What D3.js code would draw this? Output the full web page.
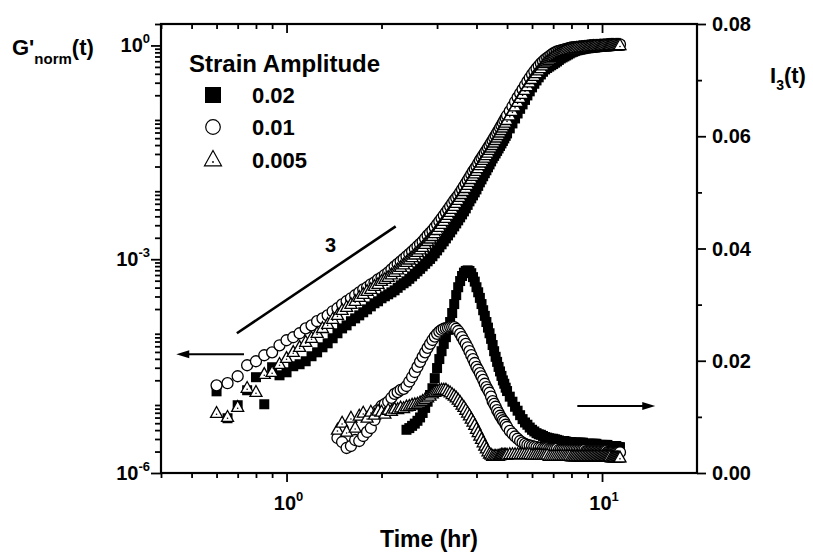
<!DOCTYPE html>
<html><head><meta charset="utf-8">
<script src="https://cdn.jsdelivr.net/npm/d3@7"></script>
<style>
html,body{margin:0;padding:0;background:#fff;}
svg text{font-family:"Liberation Sans",Arial,Helvetica,sans-serif;font-weight:bold;fill:#000;}
</style></head><body>
<svg id="chart" width="813" height="557"></svg>
<script>
// ---------- data ----------
const timeG = [0.60,0.65,0.70,0.75,0.80,0.85,0.90,0.95,1.00,1.05,1.10,1.15,1.20,1.25,1.30,1.35,1.40,1.45,1.50,1.55,1.60,1.65,1.70,1.75,1.80,1.85,1.90,1.95,2.00,
  2.05,2.10,2.15,2.20,2.25,2.30,2.35,2.40,2.45,2.50,2.55,2.60,2.65,2.70,2.75,2.80,2.85,2.90,2.95,3.00,
  3.05,3.10,3.15,3.20,3.25,3.30,3.35,3.40,3.45,3.50,3.55,3.60,3.65,3.70,3.75,3.80,3.85,3.90,3.95,4.00,
  4.05,4.10,4.15,4.20,4.25,4.30,4.35,4.40,4.45,4.50,4.55,4.60,4.65,4.70,4.75,4.80,4.85,4.90,4.95,5.00,
  5.1,5.2,5.3,5.4,5.5,5.6,5.7,5.8,5.9,6.0,6.1,6.2,6.3,6.4,6.5,6.6,6.7,6.8,6.9,7.0,
  7.1,7.2,7.3,7.4,7.5,7.6,7.7,7.8,7.9,8.0,8.1,8.2,8.3,8.4,8.5,8.6,8.7,8.8,8.9,9.0,
  9.1,9.2,9.3,9.4,9.5,9.6,9.7,9.8,9.9,10.0,10.1,10.2,10.3,10.4,10.5,10.6,10.7,10.8,10.9,11.0,
  11.1,11.2,11.3,11.4];
// G'norm(t), strain 0.02 (filled squares)
const gStrain002 = [1.40e-5,5.87e-6,8.93e-6,1.45e-5,2.21e-5,9.22e-6,3.05e-5,2.35e-5,2.59e-5,3.15e-5,3.36e-5,3.70e-5,4.35e-5,4.94e-5,5.81e-5,6.61e-5,7.78e-5,9.14e-5,1.07e-4,1.18e-4,1.35e-4,1.48e-4,1.63e-4,1.80e-4,1.98e-4,2.18e-4,2.41e-4,2.57e-4,2.83e-4,
  3.02e-4,3.22e-4,3.43e-4,3.66e-4,3.97e-4,4.31e-4,4.60e-4,4.90e-4,5.31e-4,5.75e-4,6.24e-4,6.76e-4,7.33e-4,7.95e-4,8.62e-4,9.35e-4,1.01e-3,1.10e-3,1.21e-3,1.33e-3,
  1.47e-3,1.62e-3,1.78e-3,1.96e-3,2.16e-3,2.38e-3,2.62e-3,2.89e-3,3.18e-3,3.51e-3,3.87e-3,4.26e-3,4.69e-3,5.17e-3,5.79e-3,6.49e-3,7.15e-3,7.87e-3,8.67e-3,9.55e-3,
  1.07e-2,1.20e-2,1.32e-2,1.46e-2,1.61e-2,1.77e-2,1.95e-2,2.14e-2,2.36e-2,2.60e-2,2.82e-2,3.05e-2,3.31e-2,3.59e-2,3.89e-2,4.22e-2,4.57e-2,4.96e-2,5.38e-2,5.83e-2,
  6.86e-2,8.05e-2,9.45e-2,0.111,0.129,0.149,0.172,0.199,0.227,0.258,0.290,0.323,0.357,0.392,0.427,0.461,0.483,0.505,0.527,0.548,
  0.572,0.597,0.627,0.657,0.679,0.701,0.724,0.748,0.773,0.798,0.815,0.833,0.851,0.860,0.870,0.879,0.889,0.898,0.908,0.913,
  0.917,0.922,0.927,0.932,0.937,0.942,0.948,0.953,0.958,0.963,0.968,0.968,0.968,0.968,0.973,0.979,0.984,0.984,0.984,0.984,
  0.988,0.992,0.996,1.0];
// G'norm(t), strain 0.01 (open circles)
const gStrain001 = [1.70e-5,1.82e-5,2.28e-5,3.25e-5,3.70e-5,4.49e-5,4.94e-5,6.20e-5,7.29e-5,8.03e-5,9.14e-5,1.07e-4,1.18e-4,1.35e-4,1.48e-4,1.63e-4,1.86e-4,2.05e-4,2.33e-4,2.57e-4,2.83e-4,3.12e-4,3.43e-4,3.78e-4,4.04e-4,4.45e-4,4.74e-4,5.22e-4,5.57e-4,
  6.05e-4,6.55e-4,7.20e-4,7.95e-4,8.60e-4,9.35e-4,1.01e-3,1.10e-3,1.19e-3,1.29e-3,1.40e-3,1.52e-3,1.64e-3,1.78e-3,1.96e-3,2.16e-3,2.34e-3,2.54e-3,2.80e-3,3.09e-3,
  3.40e-3,3.75e-3,4.13e-3,4.55e-3,5.01e-3,5.52e-3,6.08e-3,6.70e-3,7.26e-3,7.87e-3,8.67e-3,9.55e-3,1.05e-2,1.16e-2,1.28e-2,1.41e-2,1.55e-2,1.71e-2,1.85e-2,2.01e-2,
  2.21e-2,2.44e-2,2.64e-2,2.86e-2,3.10e-2,3.37e-2,3.65e-2,3.96e-2,4.29e-2,4.65e-2,5.04e-2,5.47e-2,5.93e-2,6.43e-2,6.97e-2,7.55e-2,8.18e-2,8.87e-2,9.61e-2,0.104,
  0.120,0.139,0.162,0.187,0.213,0.242,0.276,0.313,0.352,0.392,0.434,0.476,0.518,0.560,0.598,0.636,0.668,0.701,0.737,0.772,
  0.798,0.824,0.838,0.851,0.865,0.879,0.893,0.908,0.922,0.937,0.942,0.948,0.953,0.958,0.963,0.968,0.973,0.979,0.984,0.989,
  0.995,1.0,1.0,1.0,1.0,1.005,1.011,1.016,1.016,1.016,1.016,1.022,1.028,1.033,1.033,1.033,1.033,1.033,1.033,1.033,
  1.033,1.033,1.033,1.033];
// G'norm(t), strain 0.005 (open triangles)
const gStrain0005 = [6.90e-6,6.06e-6,8.37e-6,1.55e-5,1.36e-5,2.43e-5,2.59e-5,3.36e-5,4.07e-5,4.94e-5,5.81e-5,6.84e-5,7.78e-5,9.14e-5,1.07e-4,1.22e-4,1.44e-4,1.63e-4,1.92e-4,2.12e-4,2.33e-4,2.57e-4,2.92e-4,3.22e-4,3.55e-4,3.78e-4,4.17e-4,4.45e-4,4.90e-4,
  5.22e-4,5.57e-4,6.04e-4,6.55e-4,7.10e-4,7.69e-4,8.34e-4,9.05e-4,9.79e-4,1.06e-3,1.15e-3,1.25e-3,1.36e-3,1.47e-3,1.62e-3,1.78e-3,1.93e-3,2.09e-3,2.30e-3,2.54e-3,
  2.80e-3,3.09e-3,3.40e-3,3.75e-3,4.13e-3,4.55e-3,5.01e-3,5.52e-3,6.08e-3,6.70e-3,7.38e-3,8.13e-3,8.95e-3,9.86e-3,1.09e-2,1.20e-2,1.32e-2,1.46e-2,1.58e-2,1.71e-2,
  1.88e-2,2.07e-2,2.25e-2,2.44e-2,2.64e-2,2.86e-2,3.10e-2,3.37e-2,3.65e-2,3.96e-2,4.29e-2,4.65e-2,5.04e-2,5.47e-2,5.93e-2,6.43e-2,6.97e-2,7.55e-2,8.18e-2,8.87e-2,
  0.103,0.119,0.138,0.159,0.181,0.206,0.235,0.266,0.299,0.334,0.369,0.405,0.440,0.476,0.518,0.560,0.588,0.616,0.648,0.679,
  0.701,0.724,0.748,0.772,0.798,0.824,0.838,0.851,0.865,0.879,0.889,0.898,0.908,0.913,0.917,0.922,0.927,0.932,0.937,0.942,
  0.948,0.953,0.958,0.963,0.968,0.968,0.968,0.968,0.973,0.979,0.984,0.984,0.984,0.984,0.989,0.995,1.0,1.0,1.0,1.0,
  1.0,1.0,1.0,1.0];

// I3(t) is sampled from 1.45 hr onwards on the same clock
const timeI = timeG.filter(t => t >= 1.45);
// I3(t), strain 0.02 (no visible points before 2.4 hr)
const iStrain002 = [null,null,null,null,null,null,null,null,null,null,null,null,null,null,null,null,null,null,null,
  0.0077,0.0080,0.0084,0.0088,0.0093,0.0099,0.0107,0.0116,0.0127,0.0139,
  0.0151,0.0169,0.0187,0.0203,0.0217,0.0230,0.0242,0.0255,0.0269,0.0285,
  0.0301,0.0317,0.0331,0.0342,0.0351,0.0357,0.0360,0.0361,0.0360,0.0356,
  0.0349,0.0341,0.0331,0.0322,0.0312,0.0301,0.0290,0.0280,0.0269,0.0259,
  0.0249,0.0239,0.0228,0.0217,0.0207,0.0198,0.0189,0.0181,0.0173,0.0165,
  0.0159,0.0152,0.0146,
  0.0136,0.0127,0.0118,0.0111,0.0103,0.0096,0.0090,0.0086,0.0081,0.0077,
  0.0074,0.0071,0.0069,0.0068,0.0066,0.0064,0.0063,0.0062,0.0061,0.0061,
  0.0060,0.0059,0.0058,0.0057,0.0057,0.0057,0.0056,0.0055,0.0055,0.0055,
  0.0054,0.0054,0.0054,0.0054,0.0054,0.0054,0.0054,0.0052,0.0052,0.0052,
  0.0052,0.0052,0.0052,0.0052,0.0052,0.0052,0.0050,0.0050,0.0050,0.0050,
  0.0050,0.0050,0.0050,0.0050,0.0048,0.0048,0.0048,0.0048,0.0048,0.0048,
  0.0048,0.0046,0.0046,0.0046];
// I3(t), strain 0.01
const iStrain001 = [0.00624,0.00552,0.00445,0.00481,0.00588,0.00570,0.00659,0.00731,0.00802,0.00944,0.01122,0.01194,
  0.0123,0.0127,0.0134,0.0141,0.0144,0.0148,0.0150,0.0155,0.0163,0.0171,
  0.0180,0.0189,0.0198,0.0207,0.0215,0.0223,0.0230,0.0237,0.0243,0.0248,
  0.0252,0.0255,0.0257,0.0258,0.0259,0.0260,0.0260,0.0260,0.0257,0.0253,
  0.0248,0.0242,0.0236,0.0230,0.0224,0.0217,0.0210,0.0203,0.0196,0.0189,
  0.0184,0.0178,0.0172,0.0166,0.0159,0.0153,0.0148,0.0143,0.0136,0.0128,
  0.0123,0.0118,0.0112,0.0107,0.0102,0.0098,0.0094,0.0091,0.0086,0.0082,
  0.0075,0.0070,0.0065,0.0061,0.0057,0.0054,0.0052,0.0050,0.0049,0.0048,
  0.0047,0.0046,0.0045,0.0045,0.0044,0.0044,0.0044,0.0043,0.0043,0.0043,
  0.0043,0.0043,0.0041,0.0041,0.0041,0.0041,0.0041,0.0041,0.0041,0.0041,
  0.0041,0.0041,0.0041,0.0041,0.0041,0.0041,0.0041,0.0041,0.0039,0.0039,
  0.0039,0.0039,0.0039,0.0039,0.0039,0.0039,0.0039,0.0039,0.0039,0.0039,
  0.0039,0.0039,0.0039,0.0037,0.0037,0.0037,0.0037,0.0037,0.0037,0.0037,
  0.0037,0.0037,0.0037,0.0037];
// I3(t), strain 0.005
const iStrain0005 = [0.00766,0.00891,0.00731,0.00980,0.00802,0.01016,0.01069,0.00980,0.01087,0.01033,0.01105,0.01087,
  0.0105,0.0112,0.0110,0.0114,0.0113,0.0116,0.0115,0.0118,0.0119,0.0121,
  0.0122,0.0123,0.0125,0.0128,0.0131,0.0134,0.0137,0.0141,0.0144,0.0146,
  0.0147,0.0148,0.0148,0.0148,0.0145,0.0143,0.0140,0.0137,0.0134,0.0130,
  0.0126,0.0121,0.0117,0.0112,0.0107,0.0102,0.0096,0.0091,0.0085,0.0078,
  0.0072,0.0066,0.0060,0.0054,0.0048,0.0043,0.0038,0.0034,0.0032,0.0030,
  0.0030,0.0030,0.0030,0.0030,0.0031,0.0032,0.0032,0.0032,0.0032,0.0032,
  0.0033,0.0033,0.0033,0.0033,0.0033,0.0033,0.0033,0.0033,0.0033,0.0032,
  0.0032,0.0032,0.0032,0.0032,0.0032,0.0032,0.0032,0.0030,0.0030,0.0030,
  0.0030,0.0030,0.0030,0.0030,0.0030,0.0030,0.0030,0.0030,0.0030,0.0029,
  0.0029,0.0029,0.0029,0.0029,0.0029,0.0029,0.0029,0.0029,0.0029,0.0029,
  0.0029,0.0029,0.0029,0.0029,0.0029,0.0029,0.0029,0.0029,0.0029,0.0029,
  0.0029,0.0029,0.0029,0.0029,0.0029,0.0029,0.0027,0.0027,0.0027,0.0027,
  0.0027,0.0027,0.0027,0.0027];

const legendTitle = "Strain Amplitude";
const legendLabels = ["0.02","0.01","0.005"];
const xMajorTicks = [1,10];
const xMajorExp = ["0","1"];
const xMinorTicks = [0.4,0.5,0.6,0.7,0.8,0.9,2,3,4,5,6,7,8,9];
const yLeftMajorTicks = [1e-6,1e-3,1];
const yLeftExp = ["-6","-3","0"];
const yRightTicks = [0,0.02,0.04,0.06,0.08];
const yRightMinorTicks = [0.01,0.03,0.05,0.07];
const slopeLabel = "3";

// ---------- layout ----------
const plot = {left:161, right:697, top:24, bottom:473};
const svg = d3.select("#chart");
const x = d3.scaleLog().domain([0.4,20]).range([plot.left,plot.right]);
const yL = d3.scaleLog().domain([1e-6,2]).range([plot.bottom,plot.top]);
const yR = d3.scaleLinear().domain([0,0.08]).range([plot.bottom,plot.top]);

const yLeftMinor = [];
for (let e=-6;e<=0;e++) for (let m=2;m<=9;m++){ const v=m*Math.pow(10,e); if (v<=2.0001) yLeftMinor.push(v); }

function axisG(axis, tr){
  const g = svg.append("g").attr("transform",tr).call(axis);
  g.select(".domain").remove();
  g.selectAll(".tick text").remove();
  g.selectAll(".tick line").attr("stroke","#000").attr("stroke-width",1.8);
  return g;
}
axisG(d3.axisBottom(x).tickValues(xMinorTicks).tickSize(5).tickFormat(""), `translate(0,${plot.bottom})`);
axisG(d3.axisBottom(x).tickValues(xMajorTicks).tickSize(9).tickFormat(""), `translate(0,${plot.bottom})`);
axisG(d3.axisTop(x).tickValues(xMinorTicks).tickSize(-5).tickFormat(""), `translate(0,${plot.top})`);
axisG(d3.axisTop(x).tickValues(xMajorTicks).tickSize(-9).tickFormat(""), `translate(0,${plot.top})`);
axisG(d3.axisLeft(yL).tickValues(yLeftMinor).tickSize(6).tickFormat(""), `translate(${plot.left},0)`);
axisG(d3.axisLeft(yL).tickValues(yLeftMajorTicks).tickSize(10).tickFormat(""), `translate(${plot.left},0)`);
axisG(d3.axisRight(yR).tickValues(yRightMinorTicks).tickSize(5).tickFormat(""), `translate(${plot.right},0)`);
axisG(d3.axisRight(yR).tickValues(yRightTicks).tickSize(9).tickFormat(""), `translate(${plot.right},0)`);

// ---------- markers ----------
const SW = 1.3;
function triPath(s){ const h=s*0.9; return `M0,${-h*0.62}L${s/2},${h*0.38}L${-s/2},${h*0.38}Z`; }
function drawSquares(g, data, ys, size){
  g.selectAll(null).data(data).enter().append("rect")
    .attr("x",d=>x(d.t)-size/2).attr("y",d=>ys(d.v)-size/2)
    .attr("width",size).attr("height",size).attr("fill","#000");
}
function drawCircles(g, data, ys, r){
  g.selectAll(null).data(data).enter().append("circle")
    .attr("cx",d=>x(d.t)).attr("cy",d=>ys(d.v)).attr("r",r)
    .attr("fill","#fff").attr("stroke","#000").attr("stroke-width",SW);
}
function drawTriangles(g, data, ys, s){
  const gg = g.selectAll(null).data(data).enter().append("g")
    .attr("transform",d=>`translate(${x(d.t)},${ys(d.v)})`);
  gg.append("path").attr("d",triPath(s)).attr("fill","#fff").attr("stroke","#000").attr("stroke-width",SW);
  gg.append("circle").attr("cx",0).attr("cy",1).attr("r",0.8).attr("fill","#000");
}
const zip = (ts, vs) => ts.map((t,i)=>({t, v:vs[i]})).filter(d=>d.v!=null);

const gm = svg.append("g");
drawSquares(gm, zip(timeG,gStrain002), yL, 10);
drawCircles(gm, zip(timeG,gStrain001), yL, 5.5);
drawTriangles(gm, zip(timeG,gStrain0005), yL, 12);
drawSquares(gm, zip(timeI,iStrain002), yR, 10);
drawCircles(gm, zip(timeI,iStrain001), yR, 5.5);
drawTriangles(gm, zip(timeI,iStrain0005), yR, 12);

// ---------- annotations ----------
const slope = [{t:0.696, v:9.14e-5},{t:2.218, v:2.89e-3}];
svg.append("line").attr("x1",x(slope[0].t)).attr("y1",yL(slope[0].v))
  .attr("x2",x(slope[1].t)).attr("y2",yL(slope[1].v))
  .attr("stroke","#000").attr("stroke-width",2.6);
svg.append("text").attr("x",x(1.38)).attr("y",yL(1.25e-3)).attr("text-anchor","middle")
  .attr("font-size",20).text(slopeLabel);

function arrow(x0,x1,y){
  const dir = x1>x0?1:-1;
  svg.append("line").attr("x1",x0).attr("y1",y).attr("x2",x1-dir*10).attr("y2",y)
    .attr("stroke","#000").attr("stroke-width",2);
  svg.append("path").attr("d",`M${x1},${y}L${x1-dir*13},${y-4}L${x1-dir*13},${y+4}Z`).attr("fill","#000");
}
arrow(x(0.733), x(0.447), yL(4.64e-5));
arrow(x(8.35), x(14.75), yR(0.01194));

// ---------- frame ----------
svg.append("rect").attr("x",plot.left).attr("y",plot.top)
  .attr("width",plot.right-plot.left).attr("height",plot.bottom-plot.top)
  .attr("fill","none").attr("stroke","#000").attr("stroke-width",2.2);

// ---------- tick labels ----------
yLeftMajorTicks.forEach((v,i)=>{
  const t = svg.append("text").attr("x",150).attr("y",yL(v)+7).attr("text-anchor","end");
  t.append("tspan").attr("font-size",20).text("10");
  t.append("tspan").attr("font-size",13).attr("dy",-9).text(yLeftExp[i]);
});
xMajorTicks.forEach((v,i)=>{
  const t = svg.append("text").attr("x",x(v)+2).attr("y",510).attr("text-anchor","middle");
  t.append("tspan").attr("font-size",20).text("10");
  t.append("tspan").attr("font-size",13).attr("dy",-9).text(xMajorExp[i]);
});
yRightTicks.forEach(v=>{
  svg.append("text").attr("x",712).attr("y",yR(v)+7).attr("font-size",20).text(d3.format(".2f")(v));
});

// ---------- axis titles ----------
svg.append("text").attr("x",(plot.left+plot.right)/2).attr("y",547).attr("text-anchor","middle")
  .attr("font-size",23).text("Time (hr)");
const gt = svg.append("text").attr("x",12).attr("y",55);
gt.append("tspan").attr("font-size",22).text("G'");
gt.append("tspan").attr("font-size",15).attr("dy",9).text("norm");
gt.append("tspan").attr("font-size",22).attr("dy",-9).text("(t)");
const it = svg.append("text").attr("x",770).attr("y",83);
it.append("tspan").attr("font-size",22).text("I");
it.append("tspan").attr("font-size",14).attr("dy",7).text("3");
it.append("tspan").attr("font-size",22).attr("dy",-7).text("(t)");

// ---------- legend ----------
svg.append("text").attr("x",189).attr("y",72).attr("font-size",24).text(legendTitle);
const rows = [95,127,160];
legendLabels.forEach((lab,i)=>{
  svg.append("text").attr("x",252).attr("y",rows[i]+8).attr("font-size",22).text(lab);
});
svg.append("rect").attr("x",213-8).attr("y",rows[0]-8).attr("width",16).attr("height",16).attr("fill","#000");
svg.append("circle").attr("cx",213).attr("cy",rows[1]).attr("r",7.3).attr("fill","#fff").attr("stroke","#000").attr("stroke-width",1.2);
const lt = svg.append("g").attr("transform",`translate(213,${rows[2]})`);
lt.append("path").attr("d",triPath(17)).attr("fill","#fff").attr("stroke","#000").attr("stroke-width",1.2);
lt.append("circle").attr("cx",0).attr("cy",2).attr("r",0.9).attr("fill","#000");
</script>
</body></html>
